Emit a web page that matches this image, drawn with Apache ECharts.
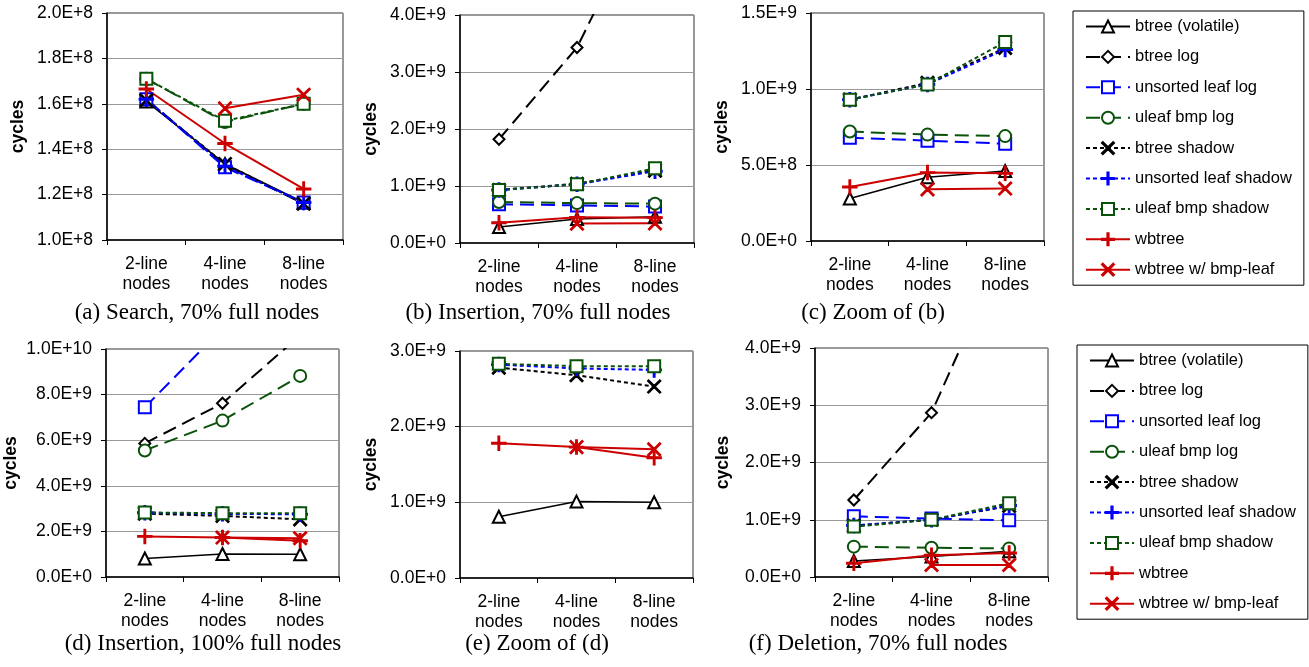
<!DOCTYPE html>
<html>
<head>
<meta charset="utf-8">
<script src="https://cdn.jsdelivr.net/npm/echarts@6/dist/echarts.min.js"></script>
<style>
  html, body { margin: 0; padding: 0; background: #fff; }
  #main { width: 1309px; height: 667px; }
</style>
</head>
<body>
<div id="main"></div>
<script>
// categories and series names
var categories = ['2-line\nnodes', '4-line\nnodes', '8-line\nnodes'];
var seriesNames = ['btree (volatile)', 'btree log', 'unsorted leaf log', 'uleaf bmp log',
  'btree shadow', 'unsorted leaf shadow', 'uleaf bmp shadow', 'wbtree', 'wbtree w/ bmp-leaf'];

// rows follow seriesNames order, values in cycles
var search70 = [
  [1.61e8, 1.335e8, 1.165e8],
  [1.62e8, 1.33e8, 1.16e8],
  [1.62e8, 1.32e8, 1.165e8],
  [1.71e8, 1.52e8, 1.60e8],
  [1.615e8, 1.335e8, 1.16e8],
  [1.62e8, 1.325e8, 1.165e8],
  [1.71e8, 1.525e8, 1.60e8],
  [1.665e8, 1.425e8, 1.225e8],
  [null, 1.58e8, 1.64e8]
];
var insert70 = [
  [0.28e9, 0.42e9, 0.46e9],
  [1.82e9, 3.43e9, 6.2e9],
  [0.68e9, 0.66e9, 0.64e9],
  [0.72e9, 0.70e9, 0.69e9],
  [0.93e9, 1.04e9, 1.27e9],
  [0.93e9, 1.03e9, 1.26e9],
  [0.93e9, 1.03e9, 1.31e9],
  [0.355e9, 0.45e9, 0.445e9],
  [null, 0.34e9, 0.345e9]
];
var insert100 = [
  [0.81e9, 1.01e9, 1.0e9],
  [5.86e9, 7.62e9, 10.6e9],
  [7.44e9, 10.9e9, 14.5e9],
  [5.55e9, 6.86e9, 8.82e9],
  [2.78e9, 2.68e9, 2.53e9],
  [2.82e9, 2.77e9, 2.75e9],
  [2.83e9, 2.80e9, 2.80e9],
  [1.78e9, 1.73e9, 1.59e9],
  [null, 1.73e9, 1.70e9]
];
var delete70 = [
  [0.28e9, 0.36e9, 0.45e9],
  [1.345e9, 2.87e9, 5.9e9],
  [1.06e9, 1.02e9, 0.99e9],
  [0.53e9, 0.51e9, 0.50e9],
  [0.90e9, 1.00e9, 1.24e9],
  [0.90e9, 1.00e9, 1.25e9],
  [0.88e9, 1.00e9, 1.29e9],
  [0.24e9, 0.38e9, 0.42e9],
  [null, 0.21e9, 0.21e9]
];

var captions = ['(a) Search, 70% full nodes', '(b) Insertion, 70% full nodes', '(c) Zoom of (b)',
  '(d) Insertion, 100% full nodes', '(e) Zoom of (d)', '(f) Deletion, 70% full nodes'];

var myChart = echarts.init(document.getElementById('main'));

var BLACK = '#000000', BLUE = '#0000ff', GREEN = '#0a520a', RED = '#cc0000';
var PLUS = 'path://M4.5,0 H5.5 V4.5 H10 V5.5 H5.5 V10 H4.5 V5.5 H0 V4.5 H4.5 Z';
var CROSS = 'path://M0,0.7 L0.7,0 L5,4.3 L9.3,0 L10,0.7 L5.7,5 L10,9.3 L9.3,10 L5,5.7 L0.7,10 L0,9.3 L4.3,5 Z';
var LONG = [14, 7], SHORT = [4, 3];

// marker + line style per series
var styles = [
  { color: BLACK, symbol: 'emptyTriangle', size: 12, type: 'solid', width: 1.5 },
  { color: BLACK, symbol: 'emptyDiamond', size: 11, type: LONG, width: 2 },
  { color: BLUE, symbol: 'emptyRect', size: 12, type: LONG, width: 2 },
  { color: GREEN, symbol: 'emptyCircle', size: 12, type: LONG, width: 2 },
  { color: BLACK, symbol: CROSS, size: 13, type: SHORT, width: 2 },
  { color: BLUE, symbol: PLUS, size: 14, type: SHORT, width: 2 },
  { color: GREEN, symbol: 'emptyRect', size: 12, type: SHORT, width: 2 },
  { color: RED, symbol: PLUS, size: 14, type: 'solid', width: 2 },
  { color: RED, symbol: CROSS, size: 13, type: 'solid', width: 2 }
];

// panel layout: grid box, y range, name gap
var panels = [
  { data: search70, left: 107, top: 13, width: 236, height: 227, min: 1e8, max: 2e8, interval: 0.2e8, gap: 80 },
  { data: insert70, left: 460, top: 15, width: 234, height: 228, min: 0, max: 4e9, interval: 1e9, gap: 80 },
  { data: insert70, left: 811, top: 13, width: 233, height: 228, min: 0, max: 1.5e9, interval: 0.5e9, gap: 80 },
  { data: insert100, left: 106, top: 349, width: 233, height: 228, min: 0, max: 1e10, interval: 2e9, gap: 86 },
  { data: insert100, left: 460, top: 351, width: 233, height: 227, min: 0, max: 3e9, interval: 1e9, gap: 80 },
  { data: delete70, left: 815, top: 348, width: 233, height: 229, min: 0, max: 4e9, interval: 1e9, gap: 83 }
];
var captionPos = [[197, 313], [538, 313], [873, 313], [203, 644], [537, 644], [878, 644]];

var FONT = 'Liberation Sans, Arial, sans-serif';
var grids = [], xAxes = [], yAxes = [], series = [], graphics = [];

for (var p = 0; p < panels.length; p++) {
  var pn = panels[p];
  grids.push({ left: pn.left, top: pn.top, width: pn.width, height: pn.height,
    show: true, borderColor: '#333', borderWidth: 1 });
  xAxes.push({
    type: 'category', gridIndex: p, data: categories,
    axisLine: { lineStyle: { color: '#000', width: 1.5 } },
    axisTick: { show: true, length: 5, lineStyle: { color: '#000' } },
    axisLabel: { interval: 0, color: '#000', fontSize: 17.5, lineHeight: 20, margin: 14, fontFamily: FONT },
    splitLine: { show: false }
  });
  yAxes.push({
    type: 'value', gridIndex: p, min: pn.min, max: pn.max, interval: pn.interval,
    name: 'cycles', nameLocation: 'middle', nameGap: pn.gap,
    nameTextStyle: { color: '#000', fontSize: 17.5, fontWeight: 'bold', fontFamily: FONT },
    axisLine: { show: true, lineStyle: { color: '#000', width: 1.5 } },
    axisTick: { show: true, length: 5, lineStyle: { color: '#000' } },
    axisLabel: { color: '#000', fontSize: 17.5, margin: 14, fontFamily: FONT,
      formatter: function (v) { return v.toExponential(1).toUpperCase(); } },
    splitLine: { show: true, lineStyle: { color: '#999', width: 1 } }
  });
  for (var s = 0; s < seriesNames.length; s++) {
    var st = styles[s];
    series.push({
      name: seriesNames[s], type: 'line', xAxisIndex: p, yAxisIndex: p,
      data: pn.data[s], clip: true, connectNulls: false,
      symbol: st.symbol, symbolSize: st.size, showAllSymbol: true,
      itemStyle: { color: st.color, borderColor: st.color, borderWidth: 1.5 },
      lineStyle: { color: st.color, width: st.width, type: st.type },
      emphasis: { disabled: true }, animation: false
    });
  }
  graphics.push({
    type: 'text', x: captionPos[p][0], y: captionPos[p][1],
    style: { text: captions[p], fill: '#000', font: '23px "Liberation Serif", "Times New Roman", serif',
      textAlign: 'center', textVerticalAlign: 'middle' }
  });
}

function makeLegend(left, top) {
  return {
    data: seriesNames, orient: 'vertical', left: left, top: top,
    itemWidth: 44, itemHeight: 15, itemGap: 13.4,
    padding: [7, 12, 7, 12],
    borderColor: '#000', borderWidth: 1, backgroundColor: '#fff',
    textStyle: { color: '#000', fontSize: 16.5, fontFamily: FONT },
    selectedMode: false
  };
}

var option = {
  backgroundColor: '#fff',
  animation: false,
  grid: grids,
  xAxis: xAxes,
  yAxis: yAxes,
  legend: [makeLegend(1073, 11), makeLegend(1077, 345)],
  series: series,
  graphic: graphics
};

myChart.setOption(option);
</script>
</body>
</html>
